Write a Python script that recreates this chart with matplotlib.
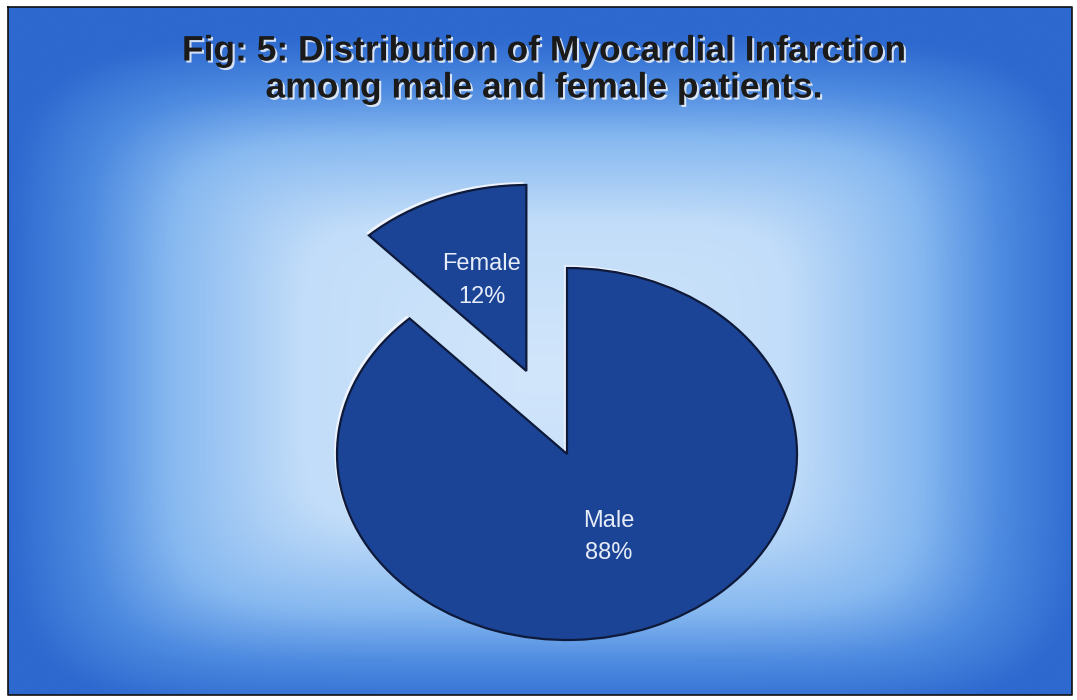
import numpy as np
import matplotlib
matplotlib.use("Agg")
import matplotlib.pyplot as plt
import matplotlib.patheffects as pe
from matplotlib.colors import LinearSegmentedColormap

# data
labels = ["Female", "Male"]
shares = [12, 88]
explode = [0.48, 0.0]

title_lines = ["Fig: 5: Distribution of Myocardial Infarction",
               "among male and female patients."]

W, H = 1077, 700
fig = plt.figure(figsize=(W / 100, H / 100), dpi=100)
fig.patch.set_facecolor("white")

# background gradient panel (rectangular "from centre" fill)
bg = fig.add_axes([0, 0, 1, 1])
bg.set_xlim(0, W)
bg.set_ylim(H, 0)
bg.axis("off")
x0, x1, y0, y1 = 8, 1072, 7, 695
xx, yy = np.meshgrid(np.linspace(x0, x1, 400), np.linspace(y0, y1, 300))
u = np.abs(xx - 545) / 540
v = np.abs(yy - 375) / 340
t = (u ** 6 + v ** 6) ** (1 / 6)
cmap = LinearSegmentedColormap.from_list(
    "bg", [(0, "#d2e6fb"), (0.45, "#c2ddf9"), (0.7, "#86b8f0"),
           (0.85, "#4d8ae0"), (1.0, "#2d69cf")])
bg.imshow(t, cmap=cmap, vmin=0, vmax=1, extent=(x0, x1, y1, y0),
          aspect="auto", interpolation="bicubic", zorder=0)
bg.plot([x0, x1, x1, x0, x0], [y0, y0, y1, y1, y0], color="#101010", lw=1.2)

for i, line in enumerate(title_lines):
    bg.text(544, 51 + i * 37, line, ha="center", va="center",
            fontsize=25.5, fontweight="bold", family="Liberation Sans",
            color="#1a1a1a",
            path_effects=[pe.withSimplePatchShadow(offset=(1.5, -1.5),
                                                   shadow_rgbFace="#e8eef8",
                                                   alpha=0.9)])

# pie: axes scaled so a unit radius is an ellipse of 230 x 186 px
cx, cy, rx, ry = 567, 454, 230, 186
ax = fig.add_axes([0, 0, 1, 1])

wedges, _ = ax.pie(shares, explode=explode, startangle=90, counterclock=True,
                   colors=["#1c4496", "#1c4496"], radius=1,
                   wedgeprops=dict(edgecolor="#0e1a3a", linewidth=1.6))
ax.set_aspect("auto")
ax.set_xlim(-cx / rx, (W - cx) / rx)
ax.set_ylim(-(H - cy) / ry, cy / ry)
ax.axis("off")
for w in wedges:
    w.set_clip_on(False)
    w.set_path_effects([pe.SimplePatchShadow(offset=(-2, 2),
                                             shadow_rgbFace="#f2f6ff",
                                             alpha=0.95),
                        pe.Normal()])

label_pos = [(482, 264, 297), (609, 521, 553)]
for lab, val, (lx, ly1, ly2) in zip(labels, shares, label_pos):
    px = (lx - cx) / rx
    ax.text(px, (cy - ly1) / ry, lab, ha="center", va="center",
            fontsize=17, color="#e6ecf8", family="Liberation Sans")
    ax.text(px, (cy - ly2) / ry, f"{val}%", ha="center", va="center",
            fontsize=17, color="#e6ecf8", family="Liberation Sans")

fig.savefig("out.png", dpi=100)
